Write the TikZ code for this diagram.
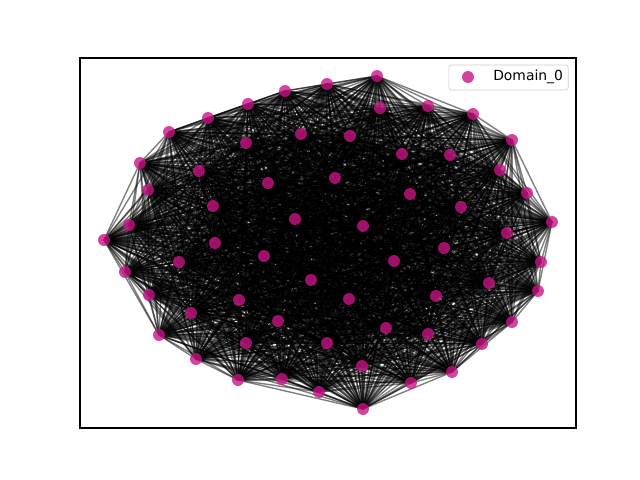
\documentclass[tikz,border=0pt]{standalone}
\usepackage{fontspec}
\setmainfont{DejaVu Sans}
\usetikzlibrary{backgrounds}
\definecolor{domaincol}{RGB}{199,21,133}
\tikzstyle{vertex}=[circle,fill=domaincol,fill opacity=0.8,minimum size=8.6pt,inner sep=0pt]
\tikzstyle{link}=[black,opacity=0.5,line width=1pt]

\begin{document}
\begin{tikzpicture}[x=0.72pt,y=-0.72pt]
\useasboundingbox (0,0) rectangle (640,480);

    \foreach \pos/\name in {{(377,76)/1}, {(327,84)/2}, {(285,91)/3}, {(248,104)/4}, {(208,118)/5}, {(169,132)/6}, {(140,163)/7}, {(148,190)/8}, {(129,225)/9}, {(104,240)/10}, {(125,272)/11}, {(149,295)/12}, {(159,335)/13}, {(196,359)/14}, {(238,380)/15}, {(282,379)/16}, {(319,392)/17}, {(363,409)/18}, {(411,383)/19}, {(452,372)/20}, {(482,344)/21}, {(512,322)/22}, {(538,291)/23}, {(541,262)/24}, {(552,222)/25}, {(527,193)/26}, {(500,170)/27}, {(512,140)/28}, {(473,114)/29}, {(428,106)/30}, {(380,108)/31}, {(301,134)/32}, {(246,143)/33}, {(350,136)/34}, {(402,154)/35}, {(450,155)/36}, {(199,171)/37}, {(268,183)/38}, {(335,178)/39}, {(410,194)/40}, {(461,207)/41}, {(213,206)/42}, {(295,219)/43}, {(363,226)/44}, {(507,233)/45}, {(215,243)/46}, {(264,256)/47}, {(444,248)/48}, {(179,262)/49}, {(394,261)/50}, {(489,283)/51}, {(311,280)/52}, {(239,300)/53}, {(349,299)/54}, {(436,296)/55}, {(191,313)/56}, {(278,321)/57}, {(386,328)/58}, {(428,334)/59}, {(246,343)/60}, {(327,343)/61}, {(362,366)/62}}
        \node[vertex] (v\name) at \pos {};

%edges behind the vertices
\begin{scope}[on background layer]
    \foreach \source in {1,...,62}
        \foreach \dest in {1,...,62}
            {\ifnum\source<\dest \draw[link] (v\source.center) -- (v\dest.center);\fi}
\end{scope}

%axes frame
\draw[line width=0.8pt] (80,58) rectangle (576,428);

%legend
\node[draw=black!20, fill=white, rounded corners=2pt, minimum width=86pt, minimum height=18pt, inner sep=0pt] (legend) at (508.5,77.5) {};
\node[vertex] (legmark) at (468,77) {};
\node[anchor=west, font=\fontsize{10}{12}\selectfont, inner sep=0pt] (legtext) at (493,77) {Domain\_0};

\end{tikzpicture}
\end{document}
